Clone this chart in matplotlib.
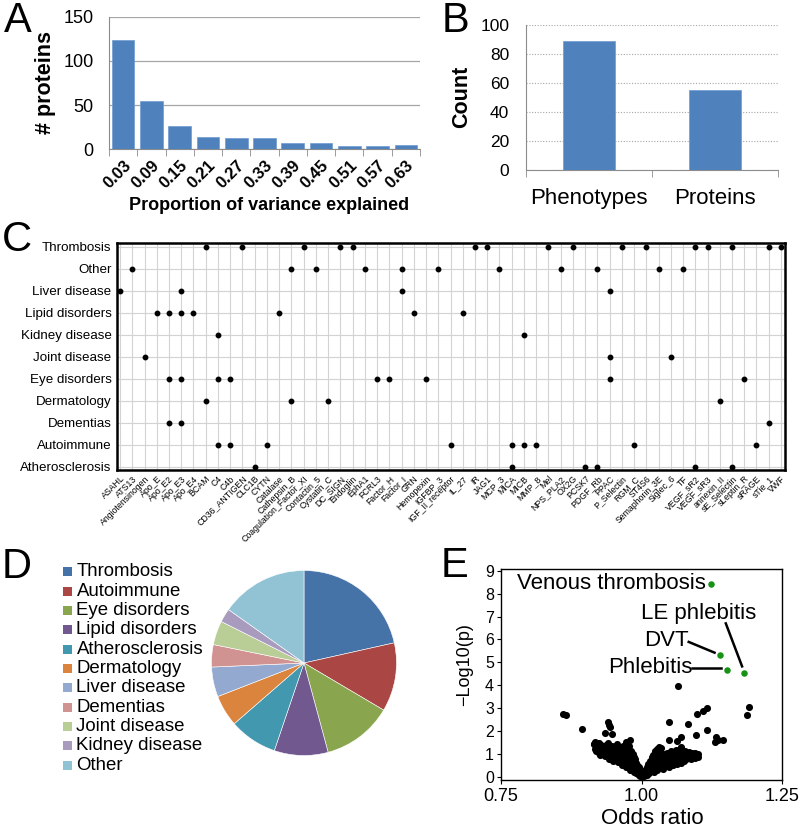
import matplotlib
matplotlib.use('Agg')
import matplotlib.pyplot as plt
from matplotlib.patches import Rectangle
import numpy as np

plt.rcParams['font.family'] = ['Liberation Sans', 'DejaVu Sans']

# ---------------- DATA ----------------
# Panel A
a_labels = ['0.03', '0.09', '0.15', '0.21', '0.27', '0.33', '0.39', '0.45', '0.51', '0.57', '0.63']
a_counts = [124, 55, 26, 14, 12, 13, 7, 7, 3, 3, 5]

# Panel B
b_labels = ['Phenotypes', 'Proteins']
b_counts = [89, 55]

# Panel C
c_proteins = ['ASAHL', 'ATS13', 'Angiotensinogen', 'Apo_E', 'Apo_E2', 'Apo_E3', 'Apo_E4', 'BCAM', 'C4', 'C4b',
              'CD36_ANTIGEN', 'CLC1B', 'CYTN', 'Catalase', 'Cathepsin_B', 'Coagulation_Factor_XI', 'Contactin_5',
              'Cystatin_C', 'DC_SIGN', 'Endoglin', 'EphA1', 'FCRL3', 'Factor_H', 'Factor_I', 'GRN', 'Hemopexin',
              'IGFBP_3', 'IGF_II_receptor', 'IL_27', 'IR', 'JAG1', 'MCP_3', 'MICA', 'MICB', 'MMP_8', 'Mel',
              'NPS_PLA2', 'OX2G', 'PCSK7', 'PDGF_Rb', 'PPAC', 'P_Selectin', 'RGM_C', 'ST4S6', 'Semaphorin_3E',
              'Siglec_6', 'TF', 'VEGF_sR2', 'VEGF_sR3', 'annexin_II', 'sE_Selectin', 'sLeptin_R', 'sRAGE',
              'sTie_1', 'VWF']
c_phenotypes = ['Thrombosis', 'Other', 'Liver disease', 'Lipid disorders', 'Kidney disease', 'Joint disease',
                'Eye disorders', 'Dermatology', 'Dementias', 'Autoimmune', 'Atherosclerosis']
thrombosis_prot = ['BCAM', 'CD36_ANTIGEN', 'Coagulation_Factor_XI', 'DC_SIGN', 'Endoglin', 'IR', 'JAG1', 'Mel',
                   'OX2G', 'P_Selectin', 'ST4S6', 'VEGF_sR2', 'VEGF_sR3', 'sE_Selectin', 'sTie_1', 'VWF']
other_prot = ['ATS13', 'Cathepsin_B', 'Contactin_5', 'EphA1', 'Factor_I', 'IGFBP_3', 'MCP_3', 'NPS_PLA2',
              'PDGF_Rb', 'Semaphorin_3E', 'TF']
liver_prot = ['ASAHL', 'Apo_E3', 'Factor_I', 'PPAC']
lipid_prot = ['Apo_E', 'Apo_E2', 'Apo_E3', 'Apo_E4', 'Catalase', 'GRN', 'IL_27']
kidney_prot = ['C4', 'MICB']
joint_prot = ['Angiotensinogen', 'PPAC', 'Siglec_6']
eye_prot = ['Apo_E2', 'Apo_E3', 'C4', 'C4b', 'FCRL3', 'Factor_H', 'Hemopexin', 'PPAC', 'sLeptin_R']
derm_prot = ['BCAM', 'Cathepsin_B', 'Cystatin_C', 'annexin_II']
dementia_prot = ['Apo_E2', 'Apo_E3', 'sTie_1']
autoimmune_prot = ['C4', 'C4b', 'CYTN', 'IGF_II_receptor', 'MICA', 'MICB', 'MMP_8', 'RGM_C', 'sRAGE']
athero_prot = ['CLC1B', 'MICA', 'PCSK7', 'PDGF_Rb', 'VEGF_sR2', 'sE_Selectin']
c_assoc = [thrombosis_prot, other_prot, liver_prot, lipid_prot, kidney_prot, joint_prot,
           eye_prot, derm_prot, dementia_prot, autoimmune_prot, athero_prot]

# Panel D
d_labels = ['Thrombosis', 'Autoimmune', 'Eye disorders', 'Lipid disorders', 'Atherosclerosis', 'Dermatology',
            'Liver disease', 'Dementias', 'Joint disease', 'Kidney disease', 'Other']
d_share = [21.5, 12.0, 12.3, 9.4, 8.4, 5.5, 5.2, 3.9, 4.2, 2.4, 15.2]
d_colors = ['#4572A7', '#AA4643', '#89A54E', '#71588F', '#4198AF', '#DB843D',
            '#93A9CF', '#D19392', '#B9CD96', '#A99BBD', '#92C3D5']

# Panel E
e_hit_names = ['Venous thrombosis', 'DVT', 'Phlebitis', 'LE phlebitis']
e_hit_or = [1.124, 1.140, 1.152, 1.182]
e_hit_p = [8.41, 5.31, 4.68, 4.53]
e_or = [0.861, 0.866, 0.895, 1.065, 1.116, 1.109, 1.099, 1.191, 1.188, 1.049, 1.082, 1.117, 1.097, 1.071,
        1.049, 1.064, 1.132, 1.137, 1.145, 1.130, 0.941, 0.943, 0.944, 0.935, 0.947, 0.917, 0.923, 0.916,
        0.916, 0.920, 0.918, 0.924, 0.922, 0.927, 0.930, 0.928, 0.933, 0.935, 0.937, 0.939, 0.941, 0.943,
        0.945, 0.946, 0.948, 0.950, 0.951, 0.953, 0.955, 0.956, 0.958, 0.959, 0.961, 0.962, 0.964, 0.965,
        0.967, 0.968, 0.970, 0.971, 0.972, 0.973, 0.975, 0.976, 0.977, 0.978, 0.979, 0.980, 0.981, 0.982,
        0.983, 0.984, 0.985, 0.986, 0.987, 0.988, 0.989, 0.990, 0.991, 0.992, 0.993, 0.994, 0.995, 0.996,
        0.997, 0.998, 0.999, 1.000,
        0.919, 0.925, 0.929, 0.932, 0.936, 0.940, 0.944, 0.947, 0.949, 0.952, 0.954, 0.957, 0.960, 0.963,
        0.966, 0.969, 0.974, 0.977, 0.981, 0.984, 0.987, 0.990, 0.993, 0.996,
        1.001, 1.002, 1.003, 1.004, 1.005, 1.006, 1.007, 1.008, 1.009, 1.010, 1.011, 1.012, 1.013, 1.014,
        1.015, 1.016, 1.017, 1.018, 1.019, 1.020, 1.021, 1.022, 1.023, 1.024, 1.025, 1.026, 1.027, 1.028,
        1.029, 1.030, 1.032, 1.033, 1.034, 1.036, 1.037, 1.038, 1.040, 1.041, 1.042, 1.044, 1.045, 1.046,
        1.048, 1.049, 1.050, 1.052, 1.053, 1.055, 1.056, 1.058, 1.059, 1.061, 1.062, 1.063, 1.065, 1.066,
        1.068, 1.069, 1.070, 1.072, 1.073, 1.075, 1.076, 1.078, 1.079, 1.081, 1.083, 1.084, 1.086, 1.088,
        1.089, 1.091, 1.093, 1.095, 1.096, 1.098, 1.100, 1.101,
        1.012, 1.018, 1.022, 1.026, 1.031, 1.035, 1.039, 1.043, 1.047, 1.051, 1.054, 1.057, 1.060, 1.064,
        1.067, 1.071, 1.074, 1.077, 1.080, 1.085, 1.090, 1.094, 1.097, 1.031, 1.035, 1.071]
e_p = [2.75, 2.68, 2.09, 3.98, 3.00, 2.89, 2.75, 3.04, 2.70, 2.38, 2.28, 2.02, 1.84, 1.75,
       1.58, 1.55, 1.73, 1.58, 1.61, 1.51, 2.38, 2.24, 2.16, 1.90, 1.87, 1.51, 1.46, 1.43,
       1.43, 1.38, 1.20, 1.05, 1.28, 0.95, 1.12, 1.40, 1.30, 0.88, 1.02, 1.22, 1.45, 0.78,
       1.10, 0.92, 1.35, 0.70, 1.18, 0.85, 1.02, 1.42, 0.62, 1.25, 0.78, 0.95, 1.12, 0.50,
       1.35, 0.68, 0.86, 1.05, 1.50, 0.40, 1.22, 0.58, 0.76, 0.95, 1.58, 0.30, 1.10, 0.48,
       0.66, 0.85, 1.00, 0.22, 0.40, 0.60, 0.78, 0.15, 0.32, 0.50, 0.10, 0.25, 0.40, 0.06,
       0.18, 0.03, 0.10, 0.01,
       1.10, 1.45, 1.22, 1.05, 1.38, 0.95, 1.25, 1.05, 0.82, 1.30, 0.75, 1.10, 0.90, 1.30,
       0.80, 1.15, 0.95, 1.35, 0.75, 0.55, 0.85, 0.60, 0.35, 0.28,
       0.02, 0.08, 0.15, 0.04, 0.22, 0.10, 0.30, 0.16, 0.42, 0.08, 0.25, 0.55, 0.35, 0.15,
       0.70, 0.45, 0.25, 0.85, 0.58, 0.35, 0.95, 0.70, 0.22, 1.10, 0.48, 0.82, 1.22, 0.30,
       0.60, 0.95, 0.40, 0.75, 1.05, 0.52, 0.88, 0.35, 0.65, 1.00, 0.45, 0.80, 0.55, 1.05,
       0.68, 0.42, 0.90, 0.58, 1.10, 0.75, 0.50, 0.95, 0.62, 1.15, 0.80, 0.55, 1.02, 0.68,
       0.88, 1.20, 0.60, 0.78, 1.05, 0.70, 0.92, 1.12, 0.75, 0.98, 0.80, 1.08, 0.88, 0.76,
       1.02, 0.85, 0.95, 0.82, 1.05, 0.90, 0.86, 0.98,
       0.35, 0.45, 0.50, 0.60, 0.70, 0.85, 0.95, 0.62, 0.85, 0.72, 0.95, 0.70, 0.85, 0.78,
       1.05, 0.95, 0.85, 0.80, 0.88, 0.95, 0.92, 0.88, 0.95, 1.28, 1.25, 1.28]

# ---------------- FIGURE ----------------
W, H = 800, 838
fig = plt.figure(figsize=(W / 100, H / 100), dpi=100)


def ax_px(x0, y0, x1, y1):
    return fig.add_axes([x0 / W, 1 - y1 / H, (x1 - x0) / W, (y1 - y0) / H])


def ftext(x, y, s, **kw):
    return fig.text(x / W, 1 - y / H, s, **kw)


BAR = '#4F81BD'
GRAYAX = '#8C8C8C'

# ---- Panel A ----
axA = ax_px(109, 17, 420, 149)
xA = np.arange(len(a_labels))
axA.bar(xA, a_counts, width=0.8, color=BAR, edgecolor='#6F9BD2', linewidth=0.5, zorder=3)
axA.set_xlim(-0.5, len(a_labels) - 0.5)
axA.set_ylim(0, 150)
axA.set_yticks([0, 50, 100, 150])
axA.yaxis.grid(True, color='#A6A6A6', lw=0.9)
axA.set_axisbelow(True)
for s in ['top', 'right']:
    axA.spines[s].set_visible(False)
for s in ['left', 'bottom']:
    axA.spines[s].set_color(GRAYAX)
axA.tick_params(axis='y', length=0, labelsize=13, pad=11)
axA.set_xticks(xA)
axA.set_xticklabels(a_labels, rotation=45, ha='right', va='top', rotation_mode='anchor',
                    fontweight='bold', fontsize=12)
axA.tick_params(axis='x', which='major', length=0, pad=6)
axA.set_xticks(np.arange(-0.5, len(a_labels), 1), minor=True)
axA.tick_params(axis='x', which='minor', length=5, color=GRAYAX)
ftext(269, 206, 'Proportion of variance explained', ha='center', va='center', fontsize=13, fontweight='bold')
ftext(45, 83, '# proteins', ha='center', va='center', rotation=90, fontsize=15.5, fontweight='bold')

# ---- Panel B ----
axB = ax_px(526, 25, 778, 170)
xB = np.arange(len(b_labels))
axB.bar(xB, b_counts, width=0.41, color=BAR, edgecolor='#6F9BD2', linewidth=0.5, zorder=3)
axB.set_xlim(-0.5, len(b_labels) - 0.5)
axB.set_ylim(0, 100)
axB.set_yticks(np.arange(0, 101, 20))
axB.yaxis.grid(True, color='#A6A6A6', lw=0.8, ls=(0, (1, 1.5)))
axB.set_axisbelow(True)
for s in ['top', 'right']:
    axB.spines[s].set_visible(False)
for s in ['left', 'bottom']:
    axB.spines[s].set_color(GRAYAX)
axB.tick_params(axis='y', length=0, labelsize=12.5, pad=12)
axB.set_xticks(xB)
axB.set_xticklabels(b_labels, fontsize=16)
axB.tick_params(axis='x', which='major', length=0, pad=13)
axB.set_xticks(np.arange(-0.5, len(b_labels), 1), minor=True)
axB.tick_params(axis='x', which='minor', length=5, color=GRAYAX)
ftext(462, 97, 'Count', ha='center', va='center', rotation=90, fontsize=15.5, fontweight='bold')

# ---- Panel C ----
axC = ax_px(117, 243, 785, 470)
col_idx = {p: i for i, p in enumerate(c_proteins)}
for r, prots in enumerate(c_assoc):
    xs = [col_idx[p] for p in prots]
    axC.plot(xs, [r] * len(xs), 'o', color='black', ms=3.2, zorder=3, clip_on=False)
axC.set_xlim(-0.25, len(c_proteins) - 1 + 0.33)
axC.set_ylim(len(c_phenotypes) - 1 + 0.14, -0.18)
axC.set_xticks(np.arange(len(c_proteins)))
axC.set_xticklabels(c_proteins, rotation=45, ha='right', va='top', rotation_mode='anchor', fontsize=6.3)
axC.set_yticks(np.arange(len(c_phenotypes)))
axC.set_yticklabels(c_phenotypes, fontsize=9.6)
axC.tick_params(axis='both', length=0)
axC.tick_params(axis='y', pad=4)
axC.tick_params(axis='x', pad=3)
axC.grid(True, color='#D3D3D3', lw=0.8)
axC.set_axisbelow(True)
for s in axC.spines.values():
    s.set_linewidth(1.8)
    s.set_color('black')

# ---- Panel D ----
cx, cy, rr = 304, 663, 92.5
axD = ax_px(cx - rr, cy - rr, cx + rr, cy + rr)
axD.pie(d_share, colors=d_colors, startangle=90, counterclock=False, radius=1,
        wedgeprops=dict(edgecolor='#FFFFFF', linewidth=0.4))
axD.set_xlim(-1, 1)
axD.set_ylim(-1, 1)
for i, (name, col) in enumerate(zip(d_labels, d_colors)):
    yy = 571.7 + i * 19.35
    fig.patches.append(Rectangle(((62.5) / W, 1 - (yy + 4.5) / H), 9 / W, 9 / H,
                                 transform=fig.transFigure, facecolor=col, edgecolor='none'))
    ftext(76.5, yy, name, ha='left', va='center', fontsize=13.4)

# ---- Panel E ----
axE = ax_px(501, 569, 782, 780)
axE.scatter(e_or, e_p, s=26, c='black', linewidths=0, zorder=3)
axE.scatter(e_hit_or, e_hit_p, s=22, c='#179217', linewidths=0, zorder=4)
axE.set_xlim(0.75, 1.25)
axE.set_ylim(-0.15, 9.08)
axE.set_xticks([0.75, 1.00, 1.25])
axE.set_xticklabels(['0.75', '1.00', '1.25'], fontsize=13)
axE.set_yticks(np.arange(0, 10, 1))
axE.tick_params(axis='y', labelsize=11.5, length=3, pad=2)
axE.tick_params(axis='x', length=3, pad=3)
for s in axE.spines.values():
    s.set_linewidth(1.0)
# annotations
axE.text(1.114, 8.45, 'Venous thrombosis', ha='right', va='center', fontsize=16)
axE.text(1.1015, 7.13, 'LE phlebitis', ha='center', va='center', fontsize=16)
axE.text(1.084, 5.96, 'DVT', ha='right', va='center', fontsize=16)
axE.text(1.090, 4.77, 'Phlebitis', ha='right', va='center', fontsize=16)
axE.plot([1.084, 1.130], [5.89, 5.42], color='black', lw=1.8, zorder=5)
axE.plot([1.090, 1.141], [4.75, 4.75], color='black', lw=1.8, zorder=5)
axE.plot([1.150, 1.179], [6.70, 4.82], color='black', lw=1.8, zorder=5)
ftext(652, 818, 'Odds ratio', ha='center', va='center', fontsize=16)
ftext(465, 665, '\u2212Log10(p)', ha='center', va='center', rotation=90, fontsize=13)

# ---- Panel letters ----
for letter, (lx, ly) in zip('ABCDE', [(18, 21), (456, 21), (17, 240), (17, 567), (455, 566)]):
    ftext(lx, ly, letter, ha='center', va='center', fontsize=30)

fig.savefig('out.png', dpi=100)
